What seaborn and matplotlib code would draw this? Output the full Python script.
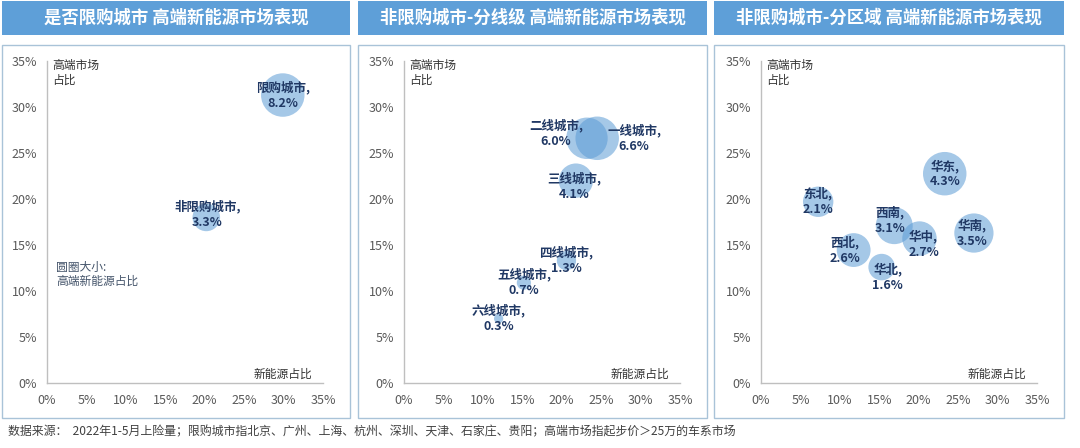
import matplotlib
matplotlib.use("Agg")
import matplotlib.pyplot as plt
import seaborn as sns
import pandas as pd
from matplotlib.patches import Rectangle
from matplotlib.ticker import FuncFormatter

sns.set_theme(style="white")
plt.rcParams['font.family'] = ['Noto Sans CJK SC', 'DejaVu Sans']

# ---------------- data ----------------
titles = ["是否限购城市 高端新能源市场表现",
          "非限购城市-分线级 高端新能源市场表现",
          "非限购城市-分区域 高端新能源市场表现"]

p1_names = ["限购城市", "非限购城市"]
p1_nev = [29.9, 20.2]          # 新能源占比 (%)
p1_high = [31.3, 18.0]         # 高端市场占比 (%)
p1_share = [8.2, 3.3]          # 高端新能源占比 (%)

p2_names = ["一线城市", "二线城市", "三线城市", "四线城市", "五线城市", "六线城市"]
p2_nev = [24.5, 23.2, 21.8, 20.6, 15.2, 12.0]
p2_high = [26.6, 26.6, 22.0, 13.3, 10.9, 7.0]
p2_share = [6.6, 6.0, 4.1, 1.3, 0.7, 0.3]

p3_names = ["华东", "东北", "西南", "华中", "华南", "西北", "华北"]
p3_nev = [23.3, 7.25, 16.9, 20.1, 27.0, 11.75, 15.3]
p3_high = [22.75, 19.7, 17.1, 15.7, 16.3, 14.45, 12.6]
p3_share = [4.3, 2.1, 3.1, 2.7, 3.5, 2.6, 1.6]

tick_values = [0, 5, 10, 15, 20, 25, 30, 35]

footnote = ("数据来源：  2022年1-5月上险量；限购城市指北京、广州、上海、杭州、深圳、天津、石家庄、贵阳；"
            "高端市场指起步价＞25万的车系市场")

# ---------------- layout (pixels) ----------------
W, H = 1080, 448
panels_px = [(2, 350, 47, 323), (358, 707, 404, 680), (714, 1064, 761, 1037)]
# label offsets in pixels (dx right, dy up)
offsets = [
    [(0, 0), (1, 3)],
    [(37, 0), (-31, 5), (-2, -6), (0, 0), (0, 0), (0, 0)],
    [(0, 0), (0, 0), (-4, 5), (4, -6), (-2, 0), (-9, 0), (6, -10)],
]

bar_color = "#5E9FD8"
frame_color = "#A9C3D8"
bubble_color = "#5B9BD5"
label_color = "#203864"

def fx(px):
    return px / W

def fy(py):
    return 1 - py / H

fig = plt.figure(figsize=(W / 100, H / 100), dpi=100)
fig.patch.set_facecolor("white")

datasets = [
    (p1_names, p1_nev, p1_high, p1_share),
    (p2_names, p2_nev, p2_high, p2_share),
    (p3_names, p3_nev, p3_high, p3_share),
]

for i, ((x0, x1, L, R), (names, nev, high, share)) in enumerate(zip(panels_px, datasets)):
    # title bar
    fig.patches.append(Rectangle((fx(x0), fy(35)), fx(x1) - fx(x0), 34 / H,
                                 transform=fig.transFigure, facecolor=bar_color,
                                 edgecolor="none", zorder=0))
    fig.text(fx((x0 + x1) / 2), fy(18), titles[i], ha="center", va="center",
             color="white", fontsize=12.5, fontweight="bold")
    # frame
    fig.patches.append(Rectangle((fx(x0), fy(418)), fx(x1) - fx(x0), (418 - 45) / H,
                                 transform=fig.transFigure, facecolor="none",
                                 edgecolor=frame_color, lw=1.0, zorder=0))

    ax = fig.add_axes([fx(L), fy(383), (R - L) / W, (383 - 61) / H])
    ax.set_facecolor("none")
    df = pd.DataFrame({"nev": nev, "high": high, "share": share, "name": names})
    sns.scatterplot(data=df, x="nev", y="high", size="share",
                    sizes=(0, 980), size_norm=(0, max(share)),
                    color=bubble_color, alpha=0.55, edgecolor="none",
                    legend=False, ax=ax, zorder=2)
    for j, row in df.iterrows():
        dx, dy = offsets[i][j]
        ax.annotate(f"{row['name']},\n{row['share']:.1f}%",
                    (row["nev"], row["high"]),
                    xytext=(dx * 0.72, dy * 0.72), textcoords="offset points",
                    ha="center", va="center", fontsize=9, fontweight="bold",
                    color=label_color, linespacing=1.25, zorder=3)

    ax.set_xlim(0, 35)
    ax.set_ylim(0, 35)
    ax.set_xticks(tick_values)
    ax.set_yticks(tick_values)
    fmt = FuncFormatter(lambda v, p: f"{v:.0f}%")
    ax.xaxis.set_major_formatter(fmt)
    ax.yaxis.set_major_formatter(fmt)
    ax.tick_params(axis="both", length=0, labelsize=9, labelcolor="#595959")
    ax.tick_params(axis="y", pad=7)
    ax.tick_params(axis="x", pad=8)
    ax.set_xlabel("")
    ax.set_ylabel("")
    for s in ["top", "right"]:
        ax.spines[s].set_visible(False)
    for s in ["left", "bottom"]:
        ax.spines[s].set_color("#BFBFBF")
        ax.spines[s].set_linewidth(1.0)

    ax.text(0.02, 1.005, "高端市场\n占比", transform=ax.transAxes, ha="left", va="top",
            fontsize=8.5, color="#333333", linespacing=1.15)
    ax.text(0.96, 0.028, "新能源占比", transform=ax.transAxes, ha="right", va="center",
            fontsize=8.5, color="#333333")
    if i == 0:
        ax.text(0.033, 0.38, "圆圈大小:\n高端新能源占比", transform=ax.transAxes,
                ha="left", va="top", fontsize=8.5, color="#44546A", linespacing=1.15)

fig.text(fx(8), fy(432), footnote, ha="left", va="center", fontsize=8.6, color="#404040")

fig.savefig("out.png", dpi=100, facecolor="white")
